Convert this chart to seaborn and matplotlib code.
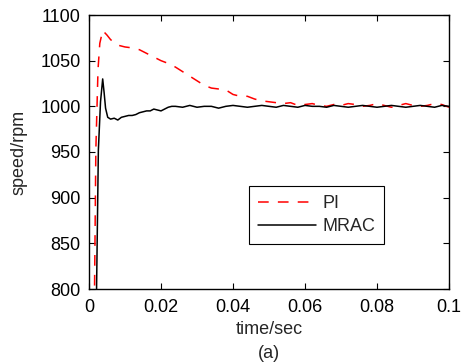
import numpy as np
import pandas as pd
import matplotlib
matplotlib.use("Agg")
import matplotlib.pyplot as plt
import seaborn as sns

# ---- data ----
pi_time = [0.0013, 0.0019, 0.0025, 0.0030, 0.0038, 0.0050, 0.0060, 0.0080, 0.0100,
           0.0120, 0.0140, 0.0160, 0.0180, 0.0200, 0.0220, 0.0240, 0.0260, 0.0280,
           0.0300, 0.0320, 0.0340, 0.0360, 0.0380, 0.0400, 0.0420, 0.0440, 0.0460,
           0.0480, 0.0500, 0.0520, 0.0540, 0.0560, 0.0580, 0.0600, 0.0620, 0.0640,
           0.0660, 0.0680, 0.0700, 0.0720, 0.0740, 0.0760, 0.0780, 0.0800, 0.0820,
           0.0840, 0.0860, 0.0880, 0.0900, 0.0920, 0.0940, 0.0960, 0.0980, 0.1000]
pi_speed = [700, 952, 1040, 1069, 1083, 1078, 1073, 1067, 1065,
            1064, 1062, 1058, 1054, 1050, 1047, 1043, 1038, 1033,
            1028, 1023, 1020, 1019, 1018, 1013, 1011, 1011, 1008,
            1006, 1005, 1004, 1003, 1004, 1001, 1002, 1003, 1001,
            1000, 1002, 1001, 1003, 1002, 1000, 1001, 1003, 1001,
            999, 1001, 1003, 1001, 1000, 1001, 1003, 1002, 999]

mrac_time = [0.0016, 0.0021, 0.0026, 0.0032, 0.0038, 0.0042, 0.0046, 0.0052, 0.0060,
             0.0070, 0.0080, 0.0090, 0.0100, 0.0110, 0.0120, 0.0130, 0.0140, 0.0150,
             0.0160, 0.0170, 0.0180, 0.0190, 0.0200, 0.0210, 0.0220, 0.0230, 0.0240,
             0.0260, 0.0280, 0.0300, 0.0320, 0.0340, 0.0360, 0.0380, 0.0400, 0.0420,
             0.0440, 0.0460, 0.0480, 0.0500, 0.0520, 0.0540, 0.0560, 0.0580, 0.0600,
             0.0620, 0.0640, 0.0660, 0.0680, 0.0700, 0.0720, 0.0740, 0.0760, 0.0780,
             0.0800, 0.0820, 0.0840, 0.0860, 0.0880, 0.0900, 0.0920, 0.0940, 0.0960,
             0.0980, 0.1000]
mrac_speed = [700, 800, 952, 1005, 1030, 1015, 998, 988, 986,
              987, 985, 988, 989, 990, 990, 991, 993, 994,
              995, 995, 997, 996, 995, 997, 999, 1000, 1000,
              999, 1001, 999, 1000, 1000, 998, 1000, 1001, 1000,
              999, 1000, 1001, 1000, 999, 1001, 1000, 999, 1001,
              1000, 1000, 999, 1001, 1000, 999, 1000, 1001, 1000,
              999, 1000, 1001, 1000, 999, 1000, 1001, 1000, 999,
              1001, 1000]

x_ticks = [0, 0.02, 0.04, 0.06, 0.08, 0.1]
x_tick_labels = ["0", "0.02", "0.04", "0.06", "0.08", "0.1"]
y_ticks = [800, 850, 900, 950, 1000, 1050, 1100]

df = pd.concat([
    pd.DataFrame({"time": pi_time, "speed": pi_speed, "ctrl": "PI"}),
    pd.DataFrame({"time": mrac_time, "speed": mrac_speed, "ctrl": "MRAC"}),
], ignore_index=True)

sns.set_style("ticks")
plt.rcParams["font.family"] = ["Liberation Sans", "DejaVu Sans"]
plt.rcParams["xtick.direction"] = "in"
plt.rcParams["ytick.direction"] = "in"

FS = 13

fig = plt.figure(figsize=(4.65, 3.64), dpi=100)
ax = fig.add_axes([89 / 465, 1 - 289 / 364, 360 / 465, 274 / 364])

sns.lineplot(data=df, x="time", y="speed", hue="ctrl", style="ctrl",
             hue_order=["PI", "MRAC"], style_order=["PI", "MRAC"],
             palette={"PI": "#ff0000", "MRAC": "#000000"},
             dashes={"PI": (7.0, 6.0), "MRAC": ""},
             estimator=None, sort=False, linewidth=1.1, ax=ax)

ax.set_xlim(0, 0.1)
ax.set_ylim(800, 1100)
ax.set_xticks(x_ticks)
ax.set_xticklabels(x_tick_labels)
ax.set_yticks(y_ticks)
ax.tick_params(axis="both", which="both", direction="in", top=True, right=True,
               length=4, width=0.8, labelsize=FS, colors="black")
ax.tick_params(axis="x", pad=7)
ax.tick_params(axis="y", pad=6)
for s in ax.spines.values():
    s.set_visible(True)
    s.set_linewidth(1.0)
    s.set_color("black")

ax.set_xlabel("time/sec", fontsize=FS, labelpad=4)
ax.set_ylabel("speed/rpm", fontsize=FS, labelpad=9)
fig.text((89 + 449) / 2 / 465, 1 - 353 / 364, "(a)", ha="center", va="center", fontsize=FS)

handles, labels = ax.get_legend_handles_labels()
leg = ax.legend(handles, labels, loc="upper left",
                bbox_to_anchor=((249 - 89) / 360, (289 - 186) / 274),
                borderaxespad=0, fontsize=FS, frameon=True,
                fancybox=False, edgecolor="black", framealpha=1,
                handlelength=3.2, borderpad=0.5, labelspacing=0.35,
                handletextpad=0.35)
leg.get_frame().set_linewidth(0.8)

fig.savefig("out.png", dpi=100)
